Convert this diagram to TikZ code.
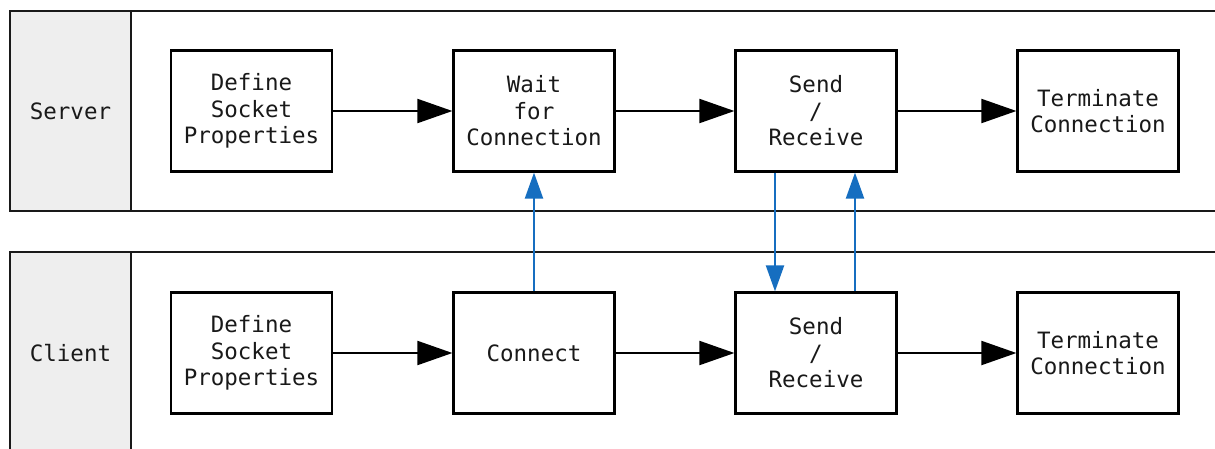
\documentclass[tikz,border=0pt]{standalone}
\usepackage{fontspec}
\setmonofont{DejaVu Sans Mono}
\usetikzlibrary{arrows.meta}
\definecolor{laneFill}{RGB}{238,238,238}
\definecolor{linkBlue}{RGB}{22,110,192}
\definecolor{txt}{RGB}{25,25,25}
\tikzset{
  lane/.style={draw=black!90, line width=2.2pt},
  lanelabel/.style={draw=black!90, line width=2.2pt, fill=laneFill, minimum width=121pt, inner sep=0pt, text=txt, font=\ttfamily\fontsize{22.5}{26.5}\selectfont},
  stepbox/.style={draw=black, line width=2.2pt, fill=white, minimum width=161pt, minimum height=121pt, inner sep=0pt, align=center, text=txt, font=\ttfamily\fontsize{22.5}{26.5}\selectfont},
  flow/.style={line width=2pt, -{Triangle[length=35pt,width=24pt]}},
  link/.style={draw=linkBlue, line width=2.2pt, -{Triangle[length=26pt,width=18pt]}, color=linkBlue}
}
\begin{document}
\begin{tikzpicture}[x=1pt,y=-1pt]
\useasboundingbox (0,0) rectangle (1215,448);
\clip (0,0) rectangle (1215,448);
% lanes
\draw[lane] (10,11) rectangle (1230,211);
\draw[lane] (10,252) rectangle (1230,470);
\node[lanelabel, minimum height=200pt] (srvlbl) at (70.5,111) {Server};
\node[lanelabel, minimum height=218pt] (clilbl) at (70.5,361) {};
\node[text=txt, font=\ttfamily\fontsize{22.5}{26.5}\selectfont] (clitxt) at (70.5,353) {Client};
% server row
\node[stepbox] (s1) at (251.5,111) {Define\\Socket\\Properties};
\node[stepbox] (s2) at (534,111) {Wait\\for\\Connection};
\node[stepbox] (s3) at (816,111) {Send\\/\\Receive};
\node[stepbox] (s4) at (1098,111) {Terminate\\Connection};
% client row
\node[stepbox] (c1) at (251.5,353) {Define\\Socket\\Properties};
\node[stepbox] (c2) at (534,353) {Connect};
\node[stepbox] (c3) at (816,353) {Send\\/\\Receive};
\node[stepbox] (c4) at (1098,353) {Terminate\\Connection};
% flows
\draw[flow] (s1) -- (s2);
\draw[flow] (s2) -- (s3);
\draw[flow] (s3) -- (s4);
\draw[flow] (c1) -- (c2);
\draw[flow] (c2) -- (c3);
\draw[flow] (c3) -- (c4);
% links
\draw[link] (c2.north) -- (s2.south);
\draw[link] (s3.south -| 775,0) -- (c3.north -| 775,0);
\draw[link] (c3.north -| 855,0) -- (s3.south -| 855,0);
\end{tikzpicture}
\end{document}
